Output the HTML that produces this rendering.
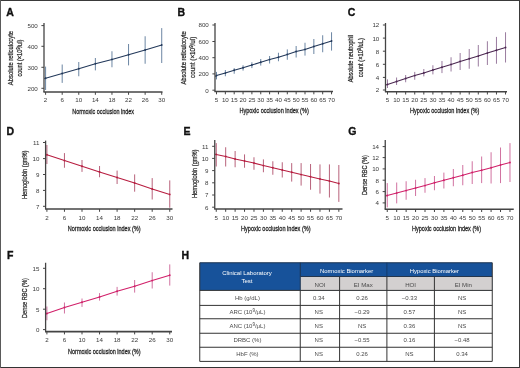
<!DOCTYPE html>
<html><head><meta charset="utf-8"><style>
html,body{margin:0;padding:0;background:#fff;width:520px;height:368px;overflow:hidden;}
svg{display:block;font-family:"Liberation Sans", sans-serif;will-change:transform;}
</style></head><body>
<svg width="520" height="368" viewBox="0 0 520 368" font-family='"Liberation Sans", sans-serif'>
<rect width="520" height="368" fill="#fff"/>
<text x="6.30" y="15.70" font-size="10.5" text-anchor="start" fill="#111" font-weight="bold" stroke="#111" stroke-width="0.35">A</text>
<line x1="45.60" y1="66.60" x2="45.60" y2="90.00" stroke="#6c86a3" stroke-width="1.0" />
<line x1="62.19" y1="64.50" x2="62.19" y2="82.90" stroke="#6c86a3" stroke-width="1.0" />
<line x1="78.78" y1="62.00" x2="78.78" y2="76.25" stroke="#6c86a3" stroke-width="1.0" />
<line x1="95.37" y1="58.00" x2="95.37" y2="70.40" stroke="#6c86a3" stroke-width="1.0" />
<line x1="111.96" y1="51.25" x2="111.96" y2="67.25" stroke="#6c86a3" stroke-width="1.0" />
<line x1="128.55" y1="44.00" x2="128.55" y2="65.40" stroke="#6c86a3" stroke-width="1.0" />
<line x1="145.14" y1="36.25" x2="145.14" y2="63.75" stroke="#6c86a3" stroke-width="1.0" />
<line x1="161.73" y1="28.10" x2="161.73" y2="63.00" stroke="#6c86a3" stroke-width="1.0" />
<polyline points="44.30,78.70 45.60,78.25 62.19,73.50 78.78,68.75 95.37,63.75 111.96,59.40 128.55,54.75 145.14,50.00 161.73,45.00" fill="none" stroke="#22385a" stroke-width="1.05"/>
<circle cx="45.60" cy="78.25" r="0.9" fill="#22385a"/>
<circle cx="62.19" cy="73.50" r="0.9" fill="#22385a"/>
<circle cx="78.78" cy="68.75" r="0.9" fill="#22385a"/>
<circle cx="95.37" cy="63.75" r="0.9" fill="#22385a"/>
<circle cx="111.96" cy="59.40" r="0.9" fill="#22385a"/>
<circle cx="128.55" cy="54.75" r="0.9" fill="#22385a"/>
<circle cx="145.14" cy="50.00" r="0.9" fill="#22385a"/>
<circle cx="161.73" cy="45.00" r="0.9" fill="#22385a"/>
<line x1="44.00" y1="23.00" x2="44.00" y2="92.00" stroke="#444444" stroke-width="1.3" />
<line x1="43.40" y1="92.00" x2="162.50" y2="92.00" stroke="#444444" stroke-width="1.6" />
<line x1="41.40" y1="25.60" x2="44.00" y2="25.60" stroke="#444444" stroke-width="1.0" />
<text x="37.80" y="28.00" font-size="6.2" text-anchor="end" fill="#3a3a3a" font-weight="normal" >500</text>
<line x1="41.40" y1="46.30" x2="44.00" y2="46.30" stroke="#444444" stroke-width="1.0" />
<text x="37.80" y="48.70" font-size="6.2" text-anchor="end" fill="#3a3a3a" font-weight="normal" >400</text>
<line x1="41.40" y1="67.30" x2="44.00" y2="67.30" stroke="#444444" stroke-width="1.0" />
<text x="37.80" y="69.70" font-size="6.2" text-anchor="end" fill="#3a3a3a" font-weight="normal" >300</text>
<line x1="41.40" y1="88.30" x2="44.00" y2="88.30" stroke="#444444" stroke-width="1.0" />
<text x="37.80" y="90.70" font-size="6.2" text-anchor="end" fill="#3a3a3a" font-weight="normal" >200</text>
<line x1="45.60" y1="92.00" x2="45.60" y2="94.80" stroke="#444444" stroke-width="1.0" />
<text x="45.60" y="102.20" font-size="6.2" text-anchor="middle" fill="#3a3a3a" font-weight="normal" >2</text>
<line x1="62.19" y1="92.00" x2="62.19" y2="94.80" stroke="#444444" stroke-width="1.0" />
<text x="62.19" y="102.20" font-size="6.2" text-anchor="middle" fill="#3a3a3a" font-weight="normal" >6</text>
<line x1="78.78" y1="92.00" x2="78.78" y2="94.80" stroke="#444444" stroke-width="1.0" />
<text x="78.78" y="102.20" font-size="6.2" text-anchor="middle" fill="#3a3a3a" font-weight="normal" >10</text>
<line x1="95.37" y1="92.00" x2="95.37" y2="94.80" stroke="#444444" stroke-width="1.0" />
<text x="95.37" y="102.20" font-size="6.2" text-anchor="middle" fill="#3a3a3a" font-weight="normal" >14</text>
<line x1="111.96" y1="92.00" x2="111.96" y2="94.80" stroke="#444444" stroke-width="1.0" />
<text x="111.96" y="102.20" font-size="6.2" text-anchor="middle" fill="#3a3a3a" font-weight="normal" >18</text>
<line x1="128.55" y1="92.00" x2="128.55" y2="94.80" stroke="#444444" stroke-width="1.0" />
<text x="128.55" y="102.20" font-size="6.2" text-anchor="middle" fill="#3a3a3a" font-weight="normal" >22</text>
<line x1="145.14" y1="92.00" x2="145.14" y2="94.80" stroke="#444444" stroke-width="1.0" />
<text x="145.14" y="102.20" font-size="6.2" text-anchor="middle" fill="#3a3a3a" font-weight="normal" >26</text>
<line x1="161.73" y1="92.00" x2="161.73" y2="94.80" stroke="#444444" stroke-width="1.0" />
<text x="161.73" y="102.20" font-size="6.2" text-anchor="middle" fill="#3a3a3a" font-weight="normal" >30</text>
<text x="103.12" y="113.60" font-size="8.0" text-anchor="middle" fill="#252525" font-weight="normal" textLength="61.75" lengthAdjust="spacingAndGlyphs" stroke="#252525" stroke-width="0.3">Normoxic occlusion index</text>
<text x="12.60" y="58.05" font-size="7.5" text-anchor="middle" fill="#2a2a2a" font-weight="normal" textLength="54.30" lengthAdjust="spacingAndGlyphs" transform="rotate(-90 12.60 58.05)" stroke="#2a2a2a" stroke-width="0.25">Absolute reticulocyte</text>
<text x="21.90" y="58.05" font-size="7.5" text-anchor="middle" fill="#2a2a2a" font-weight="normal" textLength="36.90" lengthAdjust="spacingAndGlyphs" transform="rotate(-90 21.90 58.05)" stroke="#2a2a2a" stroke-width="0.25">count (×10<tspan font-size="5" dy="-2">9</tspan><tspan dy="2">/ul)</tspan></text>
<text x="177.60" y="15.80" font-size="10.5" text-anchor="start" fill="#111" font-weight="bold" stroke="#111" stroke-width="0.35">B</text>
<line x1="216.50" y1="71.90" x2="216.50" y2="79.40" stroke="#6c86a3" stroke-width="1.0" />
<line x1="225.35" y1="70.00" x2="225.35" y2="76.25" stroke="#6c86a3" stroke-width="1.0" />
<line x1="234.20" y1="68.10" x2="234.20" y2="73.75" stroke="#6c86a3" stroke-width="1.0" />
<line x1="243.05" y1="65.25" x2="243.05" y2="70.60" stroke="#6c86a3" stroke-width="1.0" />
<line x1="251.90" y1="62.25" x2="251.90" y2="68.10" stroke="#6c86a3" stroke-width="1.0" />
<line x1="260.75" y1="59.00" x2="260.75" y2="65.60" stroke="#6c86a3" stroke-width="1.0" />
<line x1="269.60" y1="56.00" x2="269.60" y2="63.50" stroke="#6c86a3" stroke-width="1.0" />
<line x1="278.45" y1="52.75" x2="278.45" y2="61.25" stroke="#6c86a3" stroke-width="1.0" />
<line x1="287.30" y1="49.40" x2="287.30" y2="59.75" stroke="#6c86a3" stroke-width="1.0" />
<line x1="296.15" y1="46.00" x2="296.15" y2="57.50" stroke="#6c86a3" stroke-width="1.0" />
<line x1="305.00" y1="42.75" x2="305.00" y2="55.60" stroke="#6c86a3" stroke-width="1.0" />
<line x1="313.85" y1="39.00" x2="313.85" y2="54.00" stroke="#6c86a3" stroke-width="1.0" />
<line x1="322.70" y1="35.25" x2="322.70" y2="52.25" stroke="#6c86a3" stroke-width="1.0" />
<line x1="331.55" y1="32.25" x2="331.55" y2="50.60" stroke="#6c86a3" stroke-width="1.0" />
<polyline points="215.30,76.50 216.50,75.60 225.35,73.10 234.20,70.25 243.05,67.75 251.90,65.00 260.75,62.25 269.60,59.60 278.45,57.25 287.30,54.40 296.15,51.50 305.00,49.40 313.85,46.50 322.70,43.75 331.55,41.00" fill="none" stroke="#22385a" stroke-width="1.05"/>
<circle cx="216.50" cy="75.60" r="0.9" fill="#22385a"/>
<circle cx="225.35" cy="73.10" r="0.9" fill="#22385a"/>
<circle cx="234.20" cy="70.25" r="0.9" fill="#22385a"/>
<circle cx="243.05" cy="67.75" r="0.9" fill="#22385a"/>
<circle cx="251.90" cy="65.00" r="0.9" fill="#22385a"/>
<circle cx="260.75" cy="62.25" r="0.9" fill="#22385a"/>
<circle cx="269.60" cy="59.60" r="0.9" fill="#22385a"/>
<circle cx="278.45" cy="57.25" r="0.9" fill="#22385a"/>
<circle cx="287.30" cy="54.40" r="0.9" fill="#22385a"/>
<circle cx="296.15" cy="51.50" r="0.9" fill="#22385a"/>
<circle cx="305.00" cy="49.40" r="0.9" fill="#22385a"/>
<circle cx="313.85" cy="46.50" r="0.9" fill="#22385a"/>
<circle cx="322.70" cy="43.75" r="0.9" fill="#22385a"/>
<circle cx="331.55" cy="41.00" r="0.9" fill="#22385a"/>
<line x1="215.00" y1="23.00" x2="215.00" y2="91.50" stroke="#444444" stroke-width="1.3" />
<line x1="214.40" y1="91.50" x2="333.00" y2="91.50" stroke="#444444" stroke-width="1.6" />
<line x1="212.40" y1="25.00" x2="215.00" y2="25.00" stroke="#444444" stroke-width="1.0" />
<text x="208.80" y="27.40" font-size="6.2" text-anchor="end" fill="#3a3a3a" font-weight="normal" >800</text>
<line x1="212.40" y1="41.50" x2="215.00" y2="41.50" stroke="#444444" stroke-width="1.0" />
<text x="208.80" y="43.90" font-size="6.2" text-anchor="end" fill="#3a3a3a" font-weight="normal" >600</text>
<line x1="212.40" y1="57.70" x2="215.00" y2="57.70" stroke="#444444" stroke-width="1.0" />
<text x="208.80" y="60.10" font-size="6.2" text-anchor="end" fill="#3a3a3a" font-weight="normal" >400</text>
<line x1="212.40" y1="73.90" x2="215.00" y2="73.90" stroke="#444444" stroke-width="1.0" />
<text x="208.80" y="76.30" font-size="6.2" text-anchor="end" fill="#3a3a3a" font-weight="normal" >200</text>
<line x1="212.40" y1="90.20" x2="215.00" y2="90.20" stroke="#444444" stroke-width="1.0" />
<text x="208.80" y="92.60" font-size="6.2" text-anchor="end" fill="#3a3a3a" font-weight="normal" >0</text>
<line x1="216.50" y1="91.50" x2="216.50" y2="94.30" stroke="#444444" stroke-width="1.0" />
<text x="216.50" y="102.10" font-size="6.2" text-anchor="middle" fill="#3a3a3a" font-weight="normal" >5</text>
<line x1="225.35" y1="91.50" x2="225.35" y2="94.30" stroke="#444444" stroke-width="1.0" />
<text x="225.35" y="102.10" font-size="6.2" text-anchor="middle" fill="#3a3a3a" font-weight="normal" >10</text>
<line x1="234.20" y1="91.50" x2="234.20" y2="94.30" stroke="#444444" stroke-width="1.0" />
<text x="234.20" y="102.10" font-size="6.2" text-anchor="middle" fill="#3a3a3a" font-weight="normal" >15</text>
<line x1="243.05" y1="91.50" x2="243.05" y2="94.30" stroke="#444444" stroke-width="1.0" />
<text x="243.05" y="102.10" font-size="6.2" text-anchor="middle" fill="#3a3a3a" font-weight="normal" >20</text>
<line x1="251.90" y1="91.50" x2="251.90" y2="94.30" stroke="#444444" stroke-width="1.0" />
<text x="251.90" y="102.10" font-size="6.2" text-anchor="middle" fill="#3a3a3a" font-weight="normal" >25</text>
<line x1="260.75" y1="91.50" x2="260.75" y2="94.30" stroke="#444444" stroke-width="1.0" />
<text x="260.75" y="102.10" font-size="6.2" text-anchor="middle" fill="#3a3a3a" font-weight="normal" >30</text>
<line x1="269.60" y1="91.50" x2="269.60" y2="94.30" stroke="#444444" stroke-width="1.0" />
<text x="269.60" y="102.10" font-size="6.2" text-anchor="middle" fill="#3a3a3a" font-weight="normal" >35</text>
<line x1="278.45" y1="91.50" x2="278.45" y2="94.30" stroke="#444444" stroke-width="1.0" />
<text x="278.45" y="102.10" font-size="6.2" text-anchor="middle" fill="#3a3a3a" font-weight="normal" >40</text>
<line x1="287.30" y1="91.50" x2="287.30" y2="94.30" stroke="#444444" stroke-width="1.0" />
<text x="287.30" y="102.10" font-size="6.2" text-anchor="middle" fill="#3a3a3a" font-weight="normal" >45</text>
<line x1="296.15" y1="91.50" x2="296.15" y2="94.30" stroke="#444444" stroke-width="1.0" />
<text x="296.15" y="102.10" font-size="6.2" text-anchor="middle" fill="#3a3a3a" font-weight="normal" >50</text>
<line x1="305.00" y1="91.50" x2="305.00" y2="94.30" stroke="#444444" stroke-width="1.0" />
<text x="305.00" y="102.10" font-size="6.2" text-anchor="middle" fill="#3a3a3a" font-weight="normal" >55</text>
<line x1="313.85" y1="91.50" x2="313.85" y2="94.30" stroke="#444444" stroke-width="1.0" />
<text x="313.85" y="102.10" font-size="6.2" text-anchor="middle" fill="#3a3a3a" font-weight="normal" >60</text>
<line x1="322.70" y1="91.50" x2="322.70" y2="94.30" stroke="#444444" stroke-width="1.0" />
<text x="322.70" y="102.10" font-size="6.2" text-anchor="middle" fill="#3a3a3a" font-weight="normal" >65</text>
<line x1="331.55" y1="91.50" x2="331.55" y2="94.30" stroke="#444444" stroke-width="1.0" />
<text x="331.55" y="102.10" font-size="6.2" text-anchor="middle" fill="#3a3a3a" font-weight="normal" >70</text>
<text x="274.07" y="113.30" font-size="8.0" text-anchor="middle" fill="#252525" font-weight="normal" textLength="69.35" lengthAdjust="spacingAndGlyphs" stroke="#252525" stroke-width="0.3">Hypoxic occlusion index (%)</text>
<text x="185.90" y="57.95" font-size="7.5" text-anchor="middle" fill="#2a2a2a" font-weight="normal" textLength="53.30" lengthAdjust="spacingAndGlyphs" transform="rotate(-90 185.90 57.95)" stroke="#2a2a2a" stroke-width="0.25">Absolute reticulocyte</text>
<text x="195.20" y="57.35" font-size="7.5" text-anchor="middle" fill="#2a2a2a" font-weight="normal" textLength="41.30" lengthAdjust="spacingAndGlyphs" transform="rotate(-90 195.20 57.35)" stroke="#2a2a2a" stroke-width="0.25">count (×10<tspan font-size="5" dy="-2">9</tspan><tspan dy="2">/ul)</tspan></text>
<text x="347.80" y="15.80" font-size="10.5" text-anchor="start" fill="#111" font-weight="bold" stroke="#111" stroke-width="0.35">C</text>
<line x1="387.50" y1="79.40" x2="387.50" y2="88.00" stroke="#9a7c9f" stroke-width="1.0" />
<line x1="396.58" y1="77.50" x2="396.58" y2="85.00" stroke="#9a7c9f" stroke-width="1.0" />
<line x1="405.66" y1="75.00" x2="405.66" y2="82.25" stroke="#9a7c9f" stroke-width="1.0" />
<line x1="414.74" y1="71.90" x2="414.74" y2="79.75" stroke="#9a7c9f" stroke-width="1.0" />
<line x1="423.82" y1="69.00" x2="423.82" y2="76.40" stroke="#9a7c9f" stroke-width="1.0" />
<line x1="432.90" y1="65.25" x2="432.90" y2="74.40" stroke="#9a7c9f" stroke-width="1.0" />
<line x1="441.98" y1="61.00" x2="441.98" y2="73.10" stroke="#9a7c9f" stroke-width="1.0" />
<line x1="451.06" y1="57.25" x2="451.06" y2="71.50" stroke="#9a7c9f" stroke-width="1.0" />
<line x1="460.14" y1="53.00" x2="460.14" y2="70.00" stroke="#9a7c9f" stroke-width="1.0" />
<line x1="469.22" y1="49.00" x2="469.22" y2="68.75" stroke="#9a7c9f" stroke-width="1.0" />
<line x1="478.30" y1="45.00" x2="478.30" y2="66.50" stroke="#9a7c9f" stroke-width="1.0" />
<line x1="487.38" y1="41.25" x2="487.38" y2="65.00" stroke="#9a7c9f" stroke-width="1.0" />
<line x1="496.46" y1="36.90" x2="496.46" y2="63.75" stroke="#9a7c9f" stroke-width="1.0" />
<line x1="505.54" y1="32.25" x2="505.54" y2="62.50" stroke="#9a7c9f" stroke-width="1.0" />
<polyline points="385.80,85.00 387.50,84.40 396.58,81.50 405.66,78.50 414.74,75.60 423.82,72.90 432.90,70.00 441.98,67.25 451.06,64.40 460.14,61.40 469.22,58.75 478.30,56.10 487.38,53.10 496.46,50.25 505.54,47.50" fill="none" stroke="#4a2650" stroke-width="1.05"/>
<circle cx="387.50" cy="84.40" r="0.9" fill="#4a2650"/>
<circle cx="396.58" cy="81.50" r="0.9" fill="#4a2650"/>
<circle cx="405.66" cy="78.50" r="0.9" fill="#4a2650"/>
<circle cx="414.74" cy="75.60" r="0.9" fill="#4a2650"/>
<circle cx="423.82" cy="72.90" r="0.9" fill="#4a2650"/>
<circle cx="432.90" cy="70.00" r="0.9" fill="#4a2650"/>
<circle cx="441.98" cy="67.25" r="0.9" fill="#4a2650"/>
<circle cx="451.06" cy="64.40" r="0.9" fill="#4a2650"/>
<circle cx="460.14" cy="61.40" r="0.9" fill="#4a2650"/>
<circle cx="469.22" cy="58.75" r="0.9" fill="#4a2650"/>
<circle cx="478.30" cy="56.10" r="0.9" fill="#4a2650"/>
<circle cx="487.38" cy="53.10" r="0.9" fill="#4a2650"/>
<circle cx="496.46" cy="50.25" r="0.9" fill="#4a2650"/>
<circle cx="505.54" cy="47.50" r="0.9" fill="#4a2650"/>
<line x1="385.50" y1="23.00" x2="385.50" y2="91.70" stroke="#444444" stroke-width="1.3" />
<line x1="384.90" y1="91.70" x2="507.00" y2="91.70" stroke="#444444" stroke-width="1.6" />
<line x1="382.90" y1="25.00" x2="385.50" y2="25.00" stroke="#444444" stroke-width="1.0" />
<text x="379.30" y="27.40" font-size="6.2" text-anchor="end" fill="#3a3a3a" font-weight="normal" >12</text>
<line x1="382.90" y1="38.10" x2="385.50" y2="38.10" stroke="#444444" stroke-width="1.0" />
<text x="379.30" y="40.50" font-size="6.2" text-anchor="end" fill="#3a3a3a" font-weight="normal" >10</text>
<line x1="382.90" y1="51.20" x2="385.50" y2="51.20" stroke="#444444" stroke-width="1.0" />
<text x="379.30" y="53.60" font-size="6.2" text-anchor="end" fill="#3a3a3a" font-weight="normal" >8</text>
<line x1="382.90" y1="64.30" x2="385.50" y2="64.30" stroke="#444444" stroke-width="1.0" />
<text x="379.30" y="66.70" font-size="6.2" text-anchor="end" fill="#3a3a3a" font-weight="normal" >6</text>
<line x1="382.90" y1="77.40" x2="385.50" y2="77.40" stroke="#444444" stroke-width="1.0" />
<text x="379.30" y="79.80" font-size="6.2" text-anchor="end" fill="#3a3a3a" font-weight="normal" >4</text>
<line x1="382.90" y1="90.00" x2="385.50" y2="90.00" stroke="#444444" stroke-width="1.0" />
<text x="379.30" y="92.40" font-size="6.2" text-anchor="end" fill="#3a3a3a" font-weight="normal" >2</text>
<line x1="387.50" y1="91.70" x2="387.50" y2="94.50" stroke="#444444" stroke-width="1.0" />
<text x="387.50" y="102.10" font-size="6.2" text-anchor="middle" fill="#3a3a3a" font-weight="normal" >5</text>
<line x1="396.58" y1="91.70" x2="396.58" y2="94.50" stroke="#444444" stroke-width="1.0" />
<text x="396.58" y="102.10" font-size="6.2" text-anchor="middle" fill="#3a3a3a" font-weight="normal" >10</text>
<line x1="405.66" y1="91.70" x2="405.66" y2="94.50" stroke="#444444" stroke-width="1.0" />
<text x="405.66" y="102.10" font-size="6.2" text-anchor="middle" fill="#3a3a3a" font-weight="normal" >15</text>
<line x1="414.74" y1="91.70" x2="414.74" y2="94.50" stroke="#444444" stroke-width="1.0" />
<text x="414.74" y="102.10" font-size="6.2" text-anchor="middle" fill="#3a3a3a" font-weight="normal" >20</text>
<line x1="423.82" y1="91.70" x2="423.82" y2="94.50" stroke="#444444" stroke-width="1.0" />
<text x="423.82" y="102.10" font-size="6.2" text-anchor="middle" fill="#3a3a3a" font-weight="normal" >25</text>
<line x1="432.90" y1="91.70" x2="432.90" y2="94.50" stroke="#444444" stroke-width="1.0" />
<text x="432.90" y="102.10" font-size="6.2" text-anchor="middle" fill="#3a3a3a" font-weight="normal" >30</text>
<line x1="441.98" y1="91.70" x2="441.98" y2="94.50" stroke="#444444" stroke-width="1.0" />
<text x="441.98" y="102.10" font-size="6.2" text-anchor="middle" fill="#3a3a3a" font-weight="normal" >35</text>
<line x1="451.06" y1="91.70" x2="451.06" y2="94.50" stroke="#444444" stroke-width="1.0" />
<text x="451.06" y="102.10" font-size="6.2" text-anchor="middle" fill="#3a3a3a" font-weight="normal" >40</text>
<line x1="460.14" y1="91.70" x2="460.14" y2="94.50" stroke="#444444" stroke-width="1.0" />
<text x="460.14" y="102.10" font-size="6.2" text-anchor="middle" fill="#3a3a3a" font-weight="normal" >45</text>
<line x1="469.22" y1="91.70" x2="469.22" y2="94.50" stroke="#444444" stroke-width="1.0" />
<text x="469.22" y="102.10" font-size="6.2" text-anchor="middle" fill="#3a3a3a" font-weight="normal" >50</text>
<line x1="478.30" y1="91.70" x2="478.30" y2="94.50" stroke="#444444" stroke-width="1.0" />
<text x="478.30" y="102.10" font-size="6.2" text-anchor="middle" fill="#3a3a3a" font-weight="normal" >55</text>
<line x1="487.38" y1="91.70" x2="487.38" y2="94.50" stroke="#444444" stroke-width="1.0" />
<text x="487.38" y="102.10" font-size="6.2" text-anchor="middle" fill="#3a3a3a" font-weight="normal" >60</text>
<line x1="496.46" y1="91.70" x2="496.46" y2="94.50" stroke="#444444" stroke-width="1.0" />
<text x="496.46" y="102.10" font-size="6.2" text-anchor="middle" fill="#3a3a3a" font-weight="normal" >65</text>
<line x1="505.54" y1="91.70" x2="505.54" y2="94.50" stroke="#444444" stroke-width="1.0" />
<text x="505.54" y="102.10" font-size="6.2" text-anchor="middle" fill="#3a3a3a" font-weight="normal" >70</text>
<text x="444.70" y="113.30" font-size="8.0" text-anchor="middle" fill="#252525" font-weight="normal" textLength="69.40" lengthAdjust="spacingAndGlyphs" stroke="#252525" stroke-width="0.3">Hypoxic occlusion index (%)</text>
<text x="353.00" y="58.60" font-size="7.5" text-anchor="middle" fill="#2a2a2a" font-weight="normal" textLength="47.20" lengthAdjust="spacingAndGlyphs" transform="rotate(-90 353.00 58.60)" stroke="#2a2a2a" stroke-width="0.25">Absolute neutrophil</text>
<text x="362.90" y="57.75" font-size="7.5" text-anchor="middle" fill="#2a2a2a" font-weight="normal" textLength="39.10" lengthAdjust="spacingAndGlyphs" transform="rotate(-90 362.90 57.75)" stroke="#2a2a2a" stroke-width="0.25">count (×10<tspan font-size="5" dy="-2">9</tspan><tspan dy="2">/uL)</tspan></text>
<text x="6.60" y="134.60" font-size="10.5" text-anchor="start" fill="#111" font-weight="bold" stroke="#111" stroke-width="0.35">D</text>
<line x1="46.90" y1="145.00" x2="46.90" y2="164.00" stroke="#b8627b" stroke-width="1.0" />
<line x1="64.45" y1="153.10" x2="64.45" y2="167.75" stroke="#b8627b" stroke-width="1.0" />
<line x1="82.00" y1="160.00" x2="82.00" y2="171.90" stroke="#b8627b" stroke-width="1.0" />
<line x1="99.55" y1="166.00" x2="99.55" y2="177.25" stroke="#b8627b" stroke-width="1.0" />
<line x1="117.10" y1="170.60" x2="117.10" y2="184.00" stroke="#b8627b" stroke-width="1.0" />
<line x1="134.65" y1="174.40" x2="134.65" y2="191.70" stroke="#b8627b" stroke-width="1.0" />
<line x1="152.20" y1="178.10" x2="152.20" y2="199.50" stroke="#b8627b" stroke-width="1.0" />
<line x1="169.75" y1="180.40" x2="169.75" y2="207.75" stroke="#b8627b" stroke-width="1.0" />
<polyline points="46.90,154.75 64.45,160.60 82.00,166.25 99.55,171.90 117.10,177.50 134.65,183.10 152.20,189.00 169.75,194.40" fill="none" stroke="#b71c3f" stroke-width="1.05"/>
<circle cx="46.90" cy="154.75" r="0.9" fill="#b71c3f"/>
<circle cx="64.45" cy="160.60" r="0.9" fill="#b71c3f"/>
<circle cx="82.00" cy="166.25" r="0.9" fill="#b71c3f"/>
<circle cx="99.55" cy="171.90" r="0.9" fill="#b71c3f"/>
<circle cx="117.10" cy="177.50" r="0.9" fill="#b71c3f"/>
<circle cx="134.65" cy="183.10" r="0.9" fill="#b71c3f"/>
<circle cx="152.20" cy="189.00" r="0.9" fill="#b71c3f"/>
<circle cx="169.75" cy="194.40" r="0.9" fill="#b71c3f"/>
<line x1="45.60" y1="140.60" x2="45.60" y2="209.00" stroke="#444444" stroke-width="1.3" />
<line x1="45.00" y1="209.00" x2="172.50" y2="209.00" stroke="#444444" stroke-width="1.6" />
<line x1="43.00" y1="142.50" x2="45.60" y2="142.50" stroke="#444444" stroke-width="1.0" />
<text x="39.40" y="144.90" font-size="6.2" text-anchor="end" fill="#3a3a3a" font-weight="normal" >11</text>
<line x1="43.00" y1="158.60" x2="45.60" y2="158.60" stroke="#444444" stroke-width="1.0" />
<text x="39.40" y="161.00" font-size="6.2" text-anchor="end" fill="#3a3a3a" font-weight="normal" >10</text>
<line x1="43.00" y1="174.50" x2="45.60" y2="174.50" stroke="#444444" stroke-width="1.0" />
<text x="39.40" y="176.90" font-size="6.2" text-anchor="end" fill="#3a3a3a" font-weight="normal" >9</text>
<line x1="43.00" y1="190.40" x2="45.60" y2="190.40" stroke="#444444" stroke-width="1.0" />
<text x="39.40" y="192.80" font-size="6.2" text-anchor="end" fill="#3a3a3a" font-weight="normal" >8</text>
<line x1="43.00" y1="206.30" x2="45.60" y2="206.30" stroke="#444444" stroke-width="1.0" />
<text x="39.40" y="208.70" font-size="6.2" text-anchor="end" fill="#3a3a3a" font-weight="normal" >7</text>
<line x1="46.90" y1="209.00" x2="46.90" y2="211.80" stroke="#444444" stroke-width="1.0" />
<text x="46.90" y="219.80" font-size="6.2" text-anchor="middle" fill="#3a3a3a" font-weight="normal" >2</text>
<line x1="64.45" y1="209.00" x2="64.45" y2="211.80" stroke="#444444" stroke-width="1.0" />
<text x="64.45" y="219.80" font-size="6.2" text-anchor="middle" fill="#3a3a3a" font-weight="normal" >6</text>
<line x1="82.00" y1="209.00" x2="82.00" y2="211.80" stroke="#444444" stroke-width="1.0" />
<text x="82.00" y="219.80" font-size="6.2" text-anchor="middle" fill="#3a3a3a" font-weight="normal" >10</text>
<line x1="99.55" y1="209.00" x2="99.55" y2="211.80" stroke="#444444" stroke-width="1.0" />
<text x="99.55" y="219.80" font-size="6.2" text-anchor="middle" fill="#3a3a3a" font-weight="normal" >14</text>
<line x1="117.10" y1="209.00" x2="117.10" y2="211.80" stroke="#444444" stroke-width="1.0" />
<text x="117.10" y="219.80" font-size="6.2" text-anchor="middle" fill="#3a3a3a" font-weight="normal" >18</text>
<line x1="134.65" y1="209.00" x2="134.65" y2="211.80" stroke="#444444" stroke-width="1.0" />
<text x="134.65" y="219.80" font-size="6.2" text-anchor="middle" fill="#3a3a3a" font-weight="normal" >22</text>
<line x1="152.20" y1="209.00" x2="152.20" y2="211.80" stroke="#444444" stroke-width="1.0" />
<text x="152.20" y="219.80" font-size="6.2" text-anchor="middle" fill="#3a3a3a" font-weight="normal" >26</text>
<line x1="169.75" y1="209.00" x2="169.75" y2="211.80" stroke="#444444" stroke-width="1.0" />
<text x="169.75" y="219.80" font-size="6.2" text-anchor="middle" fill="#3a3a3a" font-weight="normal" >30</text>
<text x="104.17" y="231.00" font-size="8.0" text-anchor="middle" fill="#252525" font-weight="normal" textLength="72.85" lengthAdjust="spacingAndGlyphs" stroke="#252525" stroke-width="0.3">Normoxic occlusion index (%)</text>
<text x="27.40" y="174.75" font-size="7.5" text-anchor="middle" fill="#2a2a2a" font-weight="normal" textLength="48.50" lengthAdjust="spacingAndGlyphs" transform="rotate(-90 27.40 174.75)" stroke="#2a2a2a" stroke-width="0.25">Hemoglobin (gm%)</text>
<text x="183.60" y="134.60" font-size="10.5" text-anchor="start" fill="#111" font-weight="bold" stroke="#111" stroke-width="0.35">E</text>
<line x1="216.25" y1="143.10" x2="216.25" y2="166.50" stroke="#b8627b" stroke-width="1.0" />
<line x1="225.68" y1="147.25" x2="225.68" y2="166.50" stroke="#b8627b" stroke-width="1.0" />
<line x1="235.11" y1="151.00" x2="235.11" y2="167.25" stroke="#b8627b" stroke-width="1.0" />
<line x1="244.54" y1="154.40" x2="244.54" y2="167.75" stroke="#b8627b" stroke-width="1.0" />
<line x1="253.97" y1="157.25" x2="253.97" y2="169.75" stroke="#b8627b" stroke-width="1.0" />
<line x1="263.40" y1="159.40" x2="263.40" y2="172.25" stroke="#b8627b" stroke-width="1.0" />
<line x1="272.83" y1="161.25" x2="272.83" y2="174.75" stroke="#b8627b" stroke-width="1.0" />
<line x1="282.26" y1="162.25" x2="282.26" y2="177.50" stroke="#b8627b" stroke-width="1.0" />
<line x1="291.69" y1="163.10" x2="291.69" y2="181.60" stroke="#b8627b" stroke-width="1.0" />
<line x1="301.12" y1="163.10" x2="301.12" y2="185.60" stroke="#b8627b" stroke-width="1.0" />
<line x1="310.55" y1="164.00" x2="310.55" y2="189.75" stroke="#b8627b" stroke-width="1.0" />
<line x1="319.98" y1="164.40" x2="319.98" y2="193.60" stroke="#b8627b" stroke-width="1.0" />
<line x1="329.41" y1="164.40" x2="329.41" y2="197.50" stroke="#b8627b" stroke-width="1.0" />
<line x1="338.84" y1="165.00" x2="338.84" y2="201.90" stroke="#b8627b" stroke-width="1.0" />
<polyline points="215.20,154.30 216.25,154.40 225.68,156.50 235.11,159.00 244.54,161.00 253.97,163.10 263.40,165.60 272.83,167.75 282.26,170.00 291.69,172.25 301.12,174.60 310.55,176.70 319.98,178.90 329.41,181.10 338.84,183.50" fill="none" stroke="#b71c3f" stroke-width="1.05"/>
<circle cx="216.25" cy="154.40" r="0.9" fill="#b71c3f"/>
<circle cx="225.68" cy="156.50" r="0.9" fill="#b71c3f"/>
<circle cx="235.11" cy="159.00" r="0.9" fill="#b71c3f"/>
<circle cx="244.54" cy="161.00" r="0.9" fill="#b71c3f"/>
<circle cx="253.97" cy="163.10" r="0.9" fill="#b71c3f"/>
<circle cx="263.40" cy="165.60" r="0.9" fill="#b71c3f"/>
<circle cx="272.83" cy="167.75" r="0.9" fill="#b71c3f"/>
<circle cx="282.26" cy="170.00" r="0.9" fill="#b71c3f"/>
<circle cx="291.69" cy="172.25" r="0.9" fill="#b71c3f"/>
<circle cx="301.12" cy="174.60" r="0.9" fill="#b71c3f"/>
<circle cx="310.55" cy="176.70" r="0.9" fill="#b71c3f"/>
<circle cx="319.98" cy="178.90" r="0.9" fill="#b71c3f"/>
<circle cx="329.41" cy="181.10" r="0.9" fill="#b71c3f"/>
<circle cx="338.84" cy="183.50" r="0.9" fill="#b71c3f"/>
<line x1="214.75" y1="140.00" x2="214.75" y2="209.00" stroke="#444444" stroke-width="1.3" />
<line x1="214.15" y1="209.00" x2="342.50" y2="209.00" stroke="#444444" stroke-width="1.6" />
<line x1="212.15" y1="146.30" x2="214.75" y2="146.30" stroke="#444444" stroke-width="1.0" />
<text x="208.55" y="148.70" font-size="6.2" text-anchor="end" fill="#3a3a3a" font-weight="normal" >11</text>
<line x1="212.15" y1="158.40" x2="214.75" y2="158.40" stroke="#444444" stroke-width="1.0" />
<text x="208.55" y="160.80" font-size="6.2" text-anchor="end" fill="#3a3a3a" font-weight="normal" >10</text>
<line x1="212.15" y1="170.60" x2="214.75" y2="170.60" stroke="#444444" stroke-width="1.0" />
<text x="208.55" y="173.00" font-size="6.2" text-anchor="end" fill="#3a3a3a" font-weight="normal" >9</text>
<line x1="212.15" y1="182.80" x2="214.75" y2="182.80" stroke="#444444" stroke-width="1.0" />
<text x="208.55" y="185.20" font-size="6.2" text-anchor="end" fill="#3a3a3a" font-weight="normal" >8</text>
<line x1="212.15" y1="195.00" x2="214.75" y2="195.00" stroke="#444444" stroke-width="1.0" />
<text x="208.55" y="197.40" font-size="6.2" text-anchor="end" fill="#3a3a3a" font-weight="normal" >7</text>
<line x1="212.15" y1="207.20" x2="214.75" y2="207.20" stroke="#444444" stroke-width="1.0" />
<text x="208.55" y="209.60" font-size="6.2" text-anchor="end" fill="#3a3a3a" font-weight="normal" >6</text>
<line x1="216.25" y1="209.00" x2="216.25" y2="211.80" stroke="#444444" stroke-width="1.0" />
<text x="216.25" y="219.80" font-size="6.2" text-anchor="middle" fill="#3a3a3a" font-weight="normal" >5</text>
<line x1="225.68" y1="209.00" x2="225.68" y2="211.80" stroke="#444444" stroke-width="1.0" />
<text x="225.68" y="219.80" font-size="6.2" text-anchor="middle" fill="#3a3a3a" font-weight="normal" >10</text>
<line x1="235.11" y1="209.00" x2="235.11" y2="211.80" stroke="#444444" stroke-width="1.0" />
<text x="235.11" y="219.80" font-size="6.2" text-anchor="middle" fill="#3a3a3a" font-weight="normal" >15</text>
<line x1="244.54" y1="209.00" x2="244.54" y2="211.80" stroke="#444444" stroke-width="1.0" />
<text x="244.54" y="219.80" font-size="6.2" text-anchor="middle" fill="#3a3a3a" font-weight="normal" >20</text>
<line x1="253.97" y1="209.00" x2="253.97" y2="211.80" stroke="#444444" stroke-width="1.0" />
<text x="253.97" y="219.80" font-size="6.2" text-anchor="middle" fill="#3a3a3a" font-weight="normal" >25</text>
<line x1="263.40" y1="209.00" x2="263.40" y2="211.80" stroke="#444444" stroke-width="1.0" />
<text x="263.40" y="219.80" font-size="6.2" text-anchor="middle" fill="#3a3a3a" font-weight="normal" >30</text>
<line x1="272.83" y1="209.00" x2="272.83" y2="211.80" stroke="#444444" stroke-width="1.0" />
<text x="272.83" y="219.80" font-size="6.2" text-anchor="middle" fill="#3a3a3a" font-weight="normal" >35</text>
<line x1="282.26" y1="209.00" x2="282.26" y2="211.80" stroke="#444444" stroke-width="1.0" />
<text x="282.26" y="219.80" font-size="6.2" text-anchor="middle" fill="#3a3a3a" font-weight="normal" >40</text>
<line x1="291.69" y1="209.00" x2="291.69" y2="211.80" stroke="#444444" stroke-width="1.0" />
<text x="291.69" y="219.80" font-size="6.2" text-anchor="middle" fill="#3a3a3a" font-weight="normal" >45</text>
<line x1="301.12" y1="209.00" x2="301.12" y2="211.80" stroke="#444444" stroke-width="1.0" />
<text x="301.12" y="219.80" font-size="6.2" text-anchor="middle" fill="#3a3a3a" font-weight="normal" >50</text>
<line x1="310.55" y1="209.00" x2="310.55" y2="211.80" stroke="#444444" stroke-width="1.0" />
<text x="310.55" y="219.80" font-size="6.2" text-anchor="middle" fill="#3a3a3a" font-weight="normal" >55</text>
<line x1="319.98" y1="209.00" x2="319.98" y2="211.80" stroke="#444444" stroke-width="1.0" />
<text x="319.98" y="219.80" font-size="6.2" text-anchor="middle" fill="#3a3a3a" font-weight="normal" >60</text>
<line x1="329.41" y1="209.00" x2="329.41" y2="211.80" stroke="#444444" stroke-width="1.0" />
<text x="329.41" y="219.80" font-size="6.2" text-anchor="middle" fill="#3a3a3a" font-weight="normal" >65</text>
<line x1="338.84" y1="209.00" x2="338.84" y2="211.80" stroke="#444444" stroke-width="1.0" />
<text x="338.84" y="219.80" font-size="6.2" text-anchor="middle" fill="#3a3a3a" font-weight="normal" >70</text>
<text x="275.80" y="231.20" font-size="8.0" text-anchor="middle" fill="#252525" font-weight="normal" textLength="69.60" lengthAdjust="spacingAndGlyphs" stroke="#252525" stroke-width="0.3">Hypoxic occlusion index (%)</text>
<text x="197.40" y="173.75" font-size="7.5" text-anchor="middle" fill="#2a2a2a" font-weight="normal" textLength="48.50" lengthAdjust="spacingAndGlyphs" transform="rotate(-90 197.40 173.75)" stroke="#2a2a2a" stroke-width="0.25">Hemoglobin (gm%)</text>
<text x="348.20" y="134.90" font-size="10.5" text-anchor="start" fill="#111" font-weight="bold" stroke="#111" stroke-width="0.35">G</text>
<line x1="387.25" y1="183.10" x2="387.25" y2="207.40" stroke="#d172a0" stroke-width="1.0" />
<line x1="396.69" y1="182.50" x2="396.69" y2="203.40" stroke="#d172a0" stroke-width="1.0" />
<line x1="406.13" y1="181.25" x2="406.13" y2="199.75" stroke="#d172a0" stroke-width="1.0" />
<line x1="415.57" y1="179.75" x2="415.57" y2="196.00" stroke="#d172a0" stroke-width="1.0" />
<line x1="425.01" y1="178.10" x2="425.01" y2="192.75" stroke="#d172a0" stroke-width="1.0" />
<line x1="434.45" y1="176.00" x2="434.45" y2="190.25" stroke="#d172a0" stroke-width="1.0" />
<line x1="443.89" y1="172.60" x2="443.89" y2="188.50" stroke="#d172a0" stroke-width="1.0" />
<line x1="453.33" y1="169.00" x2="453.33" y2="186.25" stroke="#d172a0" stroke-width="1.0" />
<line x1="462.77" y1="165.00" x2="462.77" y2="185.25" stroke="#d172a0" stroke-width="1.0" />
<line x1="472.21" y1="161.25" x2="472.21" y2="184.00" stroke="#d172a0" stroke-width="1.0" />
<line x1="481.65" y1="156.50" x2="481.65" y2="183.10" stroke="#d172a0" stroke-width="1.0" />
<line x1="491.09" y1="152.25" x2="491.09" y2="183.50" stroke="#d172a0" stroke-width="1.0" />
<line x1="500.53" y1="147.50" x2="500.53" y2="183.10" stroke="#d172a0" stroke-width="1.0" />
<line x1="509.97" y1="143.10" x2="509.97" y2="182.00" stroke="#d172a0" stroke-width="1.0" />
<polyline points="385.60,195.90 387.25,195.50 396.69,193.10 406.13,190.60 415.57,188.10 425.01,185.60 434.45,182.75 443.89,180.25 453.33,177.75 462.77,175.25 472.21,172.50 481.65,170.25 491.09,167.75 500.53,165.00 509.97,162.50" fill="none" stroke="#d11f69" stroke-width="1.05"/>
<circle cx="387.25" cy="195.50" r="0.9" fill="#d11f69"/>
<circle cx="396.69" cy="193.10" r="0.9" fill="#d11f69"/>
<circle cx="406.13" cy="190.60" r="0.9" fill="#d11f69"/>
<circle cx="415.57" cy="188.10" r="0.9" fill="#d11f69"/>
<circle cx="425.01" cy="185.60" r="0.9" fill="#d11f69"/>
<circle cx="434.45" cy="182.75" r="0.9" fill="#d11f69"/>
<circle cx="443.89" cy="180.25" r="0.9" fill="#d11f69"/>
<circle cx="453.33" cy="177.75" r="0.9" fill="#d11f69"/>
<circle cx="462.77" cy="175.25" r="0.9" fill="#d11f69"/>
<circle cx="472.21" cy="172.50" r="0.9" fill="#d11f69"/>
<circle cx="481.65" cy="170.25" r="0.9" fill="#d11f69"/>
<circle cx="491.09" cy="167.75" r="0.9" fill="#d11f69"/>
<circle cx="500.53" cy="165.00" r="0.9" fill="#d11f69"/>
<circle cx="509.97" cy="162.50" r="0.9" fill="#d11f69"/>
<line x1="385.25" y1="140.00" x2="385.25" y2="209.20" stroke="#444444" stroke-width="1.3" />
<line x1="384.65" y1="209.20" x2="513.75" y2="209.20" stroke="#444444" stroke-width="1.6" />
<line x1="382.65" y1="146.60" x2="385.25" y2="146.60" stroke="#444444" stroke-width="1.0" />
<text x="379.05" y="149.00" font-size="6.2" text-anchor="end" fill="#3a3a3a" font-weight="normal" >14</text>
<line x1="382.65" y1="157.60" x2="385.25" y2="157.60" stroke="#444444" stroke-width="1.0" />
<text x="379.05" y="160.00" font-size="6.2" text-anchor="end" fill="#3a3a3a" font-weight="normal" >12</text>
<line x1="382.65" y1="168.90" x2="385.25" y2="168.90" stroke="#444444" stroke-width="1.0" />
<text x="379.05" y="171.30" font-size="6.2" text-anchor="end" fill="#3a3a3a" font-weight="normal" >10</text>
<line x1="382.65" y1="180.20" x2="385.25" y2="180.20" stroke="#444444" stroke-width="1.0" />
<text x="379.05" y="182.60" font-size="6.2" text-anchor="end" fill="#3a3a3a" font-weight="normal" >8</text>
<line x1="382.65" y1="191.60" x2="385.25" y2="191.60" stroke="#444444" stroke-width="1.0" />
<text x="379.05" y="194.00" font-size="6.2" text-anchor="end" fill="#3a3a3a" font-weight="normal" >6</text>
<line x1="382.65" y1="202.90" x2="385.25" y2="202.90" stroke="#444444" stroke-width="1.0" />
<text x="379.05" y="205.30" font-size="6.2" text-anchor="end" fill="#3a3a3a" font-weight="normal" >4</text>
<line x1="387.25" y1="209.20" x2="387.25" y2="212.00" stroke="#444444" stroke-width="1.0" />
<text x="387.25" y="219.90" font-size="6.2" text-anchor="middle" fill="#3a3a3a" font-weight="normal" >5</text>
<line x1="396.69" y1="209.20" x2="396.69" y2="212.00" stroke="#444444" stroke-width="1.0" />
<text x="396.69" y="219.90" font-size="6.2" text-anchor="middle" fill="#3a3a3a" font-weight="normal" >10</text>
<line x1="406.13" y1="209.20" x2="406.13" y2="212.00" stroke="#444444" stroke-width="1.0" />
<text x="406.13" y="219.90" font-size="6.2" text-anchor="middle" fill="#3a3a3a" font-weight="normal" >15</text>
<line x1="415.57" y1="209.20" x2="415.57" y2="212.00" stroke="#444444" stroke-width="1.0" />
<text x="415.57" y="219.90" font-size="6.2" text-anchor="middle" fill="#3a3a3a" font-weight="normal" >20</text>
<line x1="425.01" y1="209.20" x2="425.01" y2="212.00" stroke="#444444" stroke-width="1.0" />
<text x="425.01" y="219.90" font-size="6.2" text-anchor="middle" fill="#3a3a3a" font-weight="normal" >25</text>
<line x1="434.45" y1="209.20" x2="434.45" y2="212.00" stroke="#444444" stroke-width="1.0" />
<text x="434.45" y="219.90" font-size="6.2" text-anchor="middle" fill="#3a3a3a" font-weight="normal" >30</text>
<line x1="443.89" y1="209.20" x2="443.89" y2="212.00" stroke="#444444" stroke-width="1.0" />
<text x="443.89" y="219.90" font-size="6.2" text-anchor="middle" fill="#3a3a3a" font-weight="normal" >35</text>
<line x1="453.33" y1="209.20" x2="453.33" y2="212.00" stroke="#444444" stroke-width="1.0" />
<text x="453.33" y="219.90" font-size="6.2" text-anchor="middle" fill="#3a3a3a" font-weight="normal" >40</text>
<line x1="462.77" y1="209.20" x2="462.77" y2="212.00" stroke="#444444" stroke-width="1.0" />
<text x="462.77" y="219.90" font-size="6.2" text-anchor="middle" fill="#3a3a3a" font-weight="normal" >45</text>
<line x1="472.21" y1="209.20" x2="472.21" y2="212.00" stroke="#444444" stroke-width="1.0" />
<text x="472.21" y="219.90" font-size="6.2" text-anchor="middle" fill="#3a3a3a" font-weight="normal" >50</text>
<line x1="481.65" y1="209.20" x2="481.65" y2="212.00" stroke="#444444" stroke-width="1.0" />
<text x="481.65" y="219.90" font-size="6.2" text-anchor="middle" fill="#3a3a3a" font-weight="normal" >55</text>
<line x1="491.09" y1="209.20" x2="491.09" y2="212.00" stroke="#444444" stroke-width="1.0" />
<text x="491.09" y="219.90" font-size="6.2" text-anchor="middle" fill="#3a3a3a" font-weight="normal" >60</text>
<line x1="500.53" y1="209.20" x2="500.53" y2="212.00" stroke="#444444" stroke-width="1.0" />
<text x="500.53" y="219.90" font-size="6.2" text-anchor="middle" fill="#3a3a3a" font-weight="normal" >65</text>
<line x1="509.97" y1="209.20" x2="509.97" y2="212.00" stroke="#444444" stroke-width="1.0" />
<text x="509.97" y="219.90" font-size="6.2" text-anchor="middle" fill="#3a3a3a" font-weight="normal" >70</text>
<text x="446.50" y="231.20" font-size="8.0" text-anchor="middle" fill="#252525" font-weight="normal" textLength="69.00" lengthAdjust="spacingAndGlyphs" stroke="#252525" stroke-width="0.3">Hypoxic occlusion index (%)</text>
<text x="367.00" y="175.15" font-size="7.5" text-anchor="middle" fill="#2a2a2a" font-weight="normal" textLength="39.90" lengthAdjust="spacingAndGlyphs" transform="rotate(-90 367.00 175.15)" stroke="#2a2a2a" stroke-width="0.25">Dense RBC (%)</text>
<text x="7.00" y="258.70" font-size="10.5" text-anchor="start" fill="#111" font-weight="bold" stroke="#111" stroke-width="0.35">F</text>
<line x1="46.90" y1="306.50" x2="46.90" y2="320.25" stroke="#d172a0" stroke-width="1.0" />
<line x1="64.45" y1="302.50" x2="64.45" y2="313.50" stroke="#d172a0" stroke-width="1.0" />
<line x1="82.00" y1="298.50" x2="82.00" y2="306.90" stroke="#d172a0" stroke-width="1.0" />
<line x1="99.55" y1="293.10" x2="99.55" y2="300.60" stroke="#d172a0" stroke-width="1.0" />
<line x1="117.10" y1="286.90" x2="117.10" y2="295.60" stroke="#d172a0" stroke-width="1.0" />
<line x1="134.65" y1="280.00" x2="134.65" y2="292.60" stroke="#d172a0" stroke-width="1.0" />
<line x1="152.20" y1="272.25" x2="152.20" y2="288.50" stroke="#d172a0" stroke-width="1.0" />
<line x1="169.75" y1="264.40" x2="169.75" y2="285.60" stroke="#d172a0" stroke-width="1.0" />
<polyline points="45.90,314.00 46.90,313.50 64.45,307.50 82.00,302.25 99.55,296.90 117.10,291.25 134.65,286.25 152.20,280.60 169.75,275.25" fill="none" stroke="#d11f69" stroke-width="1.05"/>
<circle cx="46.90" cy="313.50" r="0.9" fill="#d11f69"/>
<circle cx="64.45" cy="307.50" r="0.9" fill="#d11f69"/>
<circle cx="82.00" cy="302.25" r="0.9" fill="#d11f69"/>
<circle cx="99.55" cy="296.90" r="0.9" fill="#d11f69"/>
<circle cx="117.10" cy="291.25" r="0.9" fill="#d11f69"/>
<circle cx="134.65" cy="286.25" r="0.9" fill="#d11f69"/>
<circle cx="152.20" cy="280.60" r="0.9" fill="#d11f69"/>
<circle cx="169.75" cy="275.25" r="0.9" fill="#d11f69"/>
<line x1="45.60" y1="262.75" x2="45.60" y2="331.60" stroke="#444444" stroke-width="1.3" />
<line x1="45.00" y1="331.60" x2="172.00" y2="331.60" stroke="#444444" stroke-width="1.6" />
<line x1="43.00" y1="268.30" x2="45.60" y2="268.30" stroke="#444444" stroke-width="1.0" />
<text x="39.40" y="270.70" font-size="6.2" text-anchor="end" fill="#3a3a3a" font-weight="normal" >15</text>
<line x1="43.00" y1="288.70" x2="45.60" y2="288.70" stroke="#444444" stroke-width="1.0" />
<text x="39.40" y="291.10" font-size="6.2" text-anchor="end" fill="#3a3a3a" font-weight="normal" >10</text>
<line x1="43.00" y1="309.20" x2="45.60" y2="309.20" stroke="#444444" stroke-width="1.0" />
<text x="39.40" y="311.60" font-size="6.2" text-anchor="end" fill="#3a3a3a" font-weight="normal" >5</text>
<line x1="43.00" y1="329.60" x2="45.60" y2="329.60" stroke="#444444" stroke-width="1.0" />
<text x="39.40" y="332.00" font-size="6.2" text-anchor="end" fill="#3a3a3a" font-weight="normal" >0</text>
<line x1="46.90" y1="331.60" x2="46.90" y2="334.40" stroke="#444444" stroke-width="1.0" />
<text x="46.90" y="342.40" font-size="6.2" text-anchor="middle" fill="#3a3a3a" font-weight="normal" >2</text>
<line x1="64.45" y1="331.60" x2="64.45" y2="334.40" stroke="#444444" stroke-width="1.0" />
<text x="64.45" y="342.40" font-size="6.2" text-anchor="middle" fill="#3a3a3a" font-weight="normal" >6</text>
<line x1="82.00" y1="331.60" x2="82.00" y2="334.40" stroke="#444444" stroke-width="1.0" />
<text x="82.00" y="342.40" font-size="6.2" text-anchor="middle" fill="#3a3a3a" font-weight="normal" >10</text>
<line x1="99.55" y1="331.60" x2="99.55" y2="334.40" stroke="#444444" stroke-width="1.0" />
<text x="99.55" y="342.40" font-size="6.2" text-anchor="middle" fill="#3a3a3a" font-weight="normal" >14</text>
<line x1="117.10" y1="331.60" x2="117.10" y2="334.40" stroke="#444444" stroke-width="1.0" />
<text x="117.10" y="342.40" font-size="6.2" text-anchor="middle" fill="#3a3a3a" font-weight="normal" >18</text>
<line x1="134.65" y1="331.60" x2="134.65" y2="334.40" stroke="#444444" stroke-width="1.0" />
<text x="134.65" y="342.40" font-size="6.2" text-anchor="middle" fill="#3a3a3a" font-weight="normal" >22</text>
<line x1="152.20" y1="331.60" x2="152.20" y2="334.40" stroke="#444444" stroke-width="1.0" />
<text x="152.20" y="342.40" font-size="6.2" text-anchor="middle" fill="#3a3a3a" font-weight="normal" >26</text>
<line x1="169.75" y1="331.60" x2="169.75" y2="334.40" stroke="#444444" stroke-width="1.0" />
<text x="169.75" y="342.40" font-size="6.2" text-anchor="middle" fill="#3a3a3a" font-weight="normal" >30</text>
<text x="104.30" y="353.50" font-size="8.0" text-anchor="middle" fill="#252525" font-weight="normal" textLength="72.60" lengthAdjust="spacingAndGlyphs" stroke="#252525" stroke-width="0.3">Normoxic occlusion index (%)</text>
<text x="27.40" y="298.10" font-size="7.5" text-anchor="middle" fill="#2a2a2a" font-weight="normal" textLength="39.80" lengthAdjust="spacingAndGlyphs" transform="rotate(-90 27.40 298.10)" stroke="#2a2a2a" stroke-width="0.25">Dense RBC (%)</text>
<text x="181.60" y="258.70" font-size="10.5" text-anchor="start" fill="#111" font-weight="bold" stroke="#111" stroke-width="0.35">H</text>
<rect x="199.75" y="262.75" width="292.5" height="27.649999999999977" fill="#17529a"/>
<rect x="300.25" y="276.5" width="192.0" height="13.899999999999977" fill="#d3d0d0"/>
<line x1="199.75" y1="262.75" x2="492.25" y2="262.75" stroke="#1d3552" stroke-width="1.2" />
<line x1="300.25" y1="276.50" x2="492.25" y2="276.50" stroke="#24364d" stroke-width="1.0" />
<line x1="199.75" y1="290.40" x2="492.25" y2="290.40" stroke="#333" stroke-width="1.0" />
<line x1="199.75" y1="305.40" x2="492.25" y2="305.40" stroke="#333" stroke-width="1.0" />
<line x1="199.75" y1="318.75" x2="492.25" y2="318.75" stroke="#333" stroke-width="1.0" />
<line x1="199.75" y1="333.25" x2="492.25" y2="333.25" stroke="#333" stroke-width="1.0" />
<line x1="199.75" y1="347.25" x2="492.25" y2="347.25" stroke="#333" stroke-width="1.0" />
<line x1="199.75" y1="361.40" x2="492.25" y2="361.40" stroke="#333" stroke-width="1.0" />
<line x1="199.75" y1="262.75" x2="199.75" y2="361.40" stroke="#333" stroke-width="1.0" />
<line x1="492.25" y1="262.75" x2="492.25" y2="361.40" stroke="#333" stroke-width="1.0" />
<line x1="300.25" y1="262.75" x2="300.25" y2="290.40" stroke="#1d3552" stroke-width="1.0" />
<line x1="300.25" y1="290.40" x2="300.25" y2="361.40" stroke="#333" stroke-width="1.0" />
<line x1="386.90" y1="262.75" x2="386.90" y2="276.50" stroke="#123b6b" stroke-width="1.0" />
<line x1="386.90" y1="276.50" x2="386.90" y2="361.40" stroke="#333" stroke-width="1.0" />
<line x1="339.60" y1="276.50" x2="339.60" y2="361.40" stroke="#333" stroke-width="1.0" />
<line x1="434.40" y1="276.50" x2="434.40" y2="361.40" stroke="#333" stroke-width="1.0" />
<text x="247.00" y="275.30" font-size="6.0" text-anchor="middle" fill="#ffffff" font-weight="normal" >Clinical Laboratory</text>
<text x="247.00" y="282.50" font-size="6.0" text-anchor="middle" fill="#ffffff" font-weight="normal" >Test</text>
<text x="346.57" y="272.50" font-size="5.9" text-anchor="middle" fill="#ffffff" font-weight="normal" >Normoxic Biomarker</text>
<text x="434.38" y="272.50" font-size="5.9" text-anchor="middle" fill="#ffffff" font-weight="normal" >Hypoxic Biomarker</text>
<text x="319.93" y="287.10" font-size="6.1" text-anchor="middle" fill="#4a4a4a" font-weight="normal" >NOI</text>
<text x="363.25" y="287.10" font-size="6.1" text-anchor="middle" fill="#4a4a4a" font-weight="normal" >EI Max</text>
<text x="410.65" y="287.10" font-size="6.1" text-anchor="middle" fill="#4a4a4a" font-weight="normal" >HOI</text>
<text x="463.32" y="287.10" font-size="6.1" text-anchor="middle" fill="#4a4a4a" font-weight="normal" >EI Min</text>
<text x="247.40" y="300.00" font-size="6.0" text-anchor="middle" fill="#4a4a4a" font-weight="normal" >Hb (g/dL)</text>
<text x="318.73" y="300.00" font-size="6.0" text-anchor="middle" fill="#4a4a4a" font-weight="normal" >0.34</text>
<text x="362.05" y="300.00" font-size="6.0" text-anchor="middle" fill="#4a4a4a" font-weight="normal" >0.26</text>
<text x="409.45" y="300.00" font-size="6.0" text-anchor="middle" fill="#4a4a4a" font-weight="normal" >−0.33</text>
<text x="462.12" y="300.00" font-size="6.0" text-anchor="middle" fill="#4a4a4a" font-weight="normal" >NS</text>
<text x="247.40" y="314.18" font-size="6.0" text-anchor="middle" fill="#4a4a4a" font-weight="normal" >ARC (10<tspan font-size="4.6" dy="-1.8">9</tspan><tspan dy="1.8">/μL)</tspan></text>
<text x="318.73" y="314.18" font-size="6.0" text-anchor="middle" fill="#4a4a4a" font-weight="normal" >NS</text>
<text x="362.05" y="314.18" font-size="6.0" text-anchor="middle" fill="#4a4a4a" font-weight="normal" >−0.29</text>
<text x="409.45" y="314.18" font-size="6.0" text-anchor="middle" fill="#4a4a4a" font-weight="normal" >0.57</text>
<text x="462.12" y="314.18" font-size="6.0" text-anchor="middle" fill="#4a4a4a" font-weight="normal" >NS</text>
<text x="247.40" y="328.10" font-size="6.0" text-anchor="middle" fill="#4a4a4a" font-weight="normal" >ANC (10<tspan font-size="4.6" dy="-1.8">9</tspan><tspan dy="1.8">/μL)</tspan></text>
<text x="318.73" y="328.10" font-size="6.0" text-anchor="middle" fill="#4a4a4a" font-weight="normal" >NS</text>
<text x="362.05" y="328.10" font-size="6.0" text-anchor="middle" fill="#4a4a4a" font-weight="normal" >NS</text>
<text x="409.45" y="328.10" font-size="6.0" text-anchor="middle" fill="#4a4a4a" font-weight="normal" >0.36</text>
<text x="462.12" y="328.10" font-size="6.0" text-anchor="middle" fill="#4a4a4a" font-weight="normal" >NS</text>
<text x="247.40" y="342.35" font-size="6.0" text-anchor="middle" fill="#4a4a4a" font-weight="normal" >DRBC (%)</text>
<text x="318.73" y="342.35" font-size="6.0" text-anchor="middle" fill="#4a4a4a" font-weight="normal" >NS</text>
<text x="362.05" y="342.35" font-size="6.0" text-anchor="middle" fill="#4a4a4a" font-weight="normal" >−0.55</text>
<text x="409.45" y="342.35" font-size="6.0" text-anchor="middle" fill="#4a4a4a" font-weight="normal" >0.16</text>
<text x="462.12" y="342.35" font-size="6.0" text-anchor="middle" fill="#4a4a4a" font-weight="normal" >−0.48</text>
<text x="247.40" y="356.43" font-size="6.0" text-anchor="middle" fill="#4a4a4a" font-weight="normal" >HbF (%)</text>
<text x="318.73" y="356.43" font-size="6.0" text-anchor="middle" fill="#4a4a4a" font-weight="normal" >NS</text>
<text x="362.05" y="356.43" font-size="6.0" text-anchor="middle" fill="#4a4a4a" font-weight="normal" >0.26</text>
<text x="409.45" y="356.43" font-size="6.0" text-anchor="middle" fill="#4a4a4a" font-weight="normal" >NS</text>
<text x="462.12" y="356.43" font-size="6.0" text-anchor="middle" fill="#4a4a4a" font-weight="normal" >0.34</text>
<rect x="0" y="0" width="520" height="1" fill="#3a3a3a"/>
<rect x="0" y="367" width="520" height="1" fill="#333"/>
<rect x="519" y="0" width="1" height="368" fill="#3a3a3a"/>
<rect x="0" y="0" width="1" height="368" fill="#5a5a5a"/>
</svg>
</body></html>
